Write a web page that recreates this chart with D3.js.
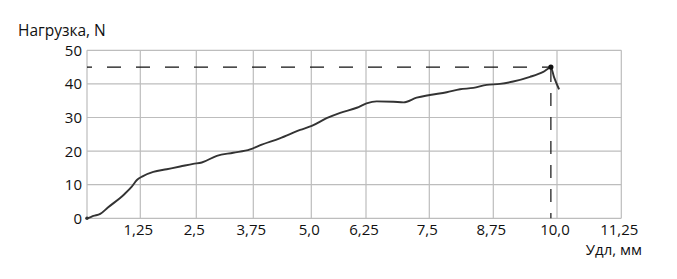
<!DOCTYPE html>
<html><head><meta charset="utf-8">
<script src="https://cdn.jsdelivr.net/npm/d3@7"></script>
<style>body{margin:0;background:#fff}svg{display:block}</style></head>
<body><svg id="c" width="677" height="279"></svg>
<script>
// ---- data ----
const xTicks = [0, 1.25, 2.5, 3.75, 5, 6.25, 7.5, 8.75, 10, 11.25];
const xTickLabels = ["", "1,25", "2,5", "3,75", "5,0", "6,25", "7,5", "8,75", "10,0", "11,25"];
const yTicks = [0, 10, 20, 30, 40, 50];
const yTickLabels = ["0", "10", "20", "30", "40", "50"];
const elongation = [0, 0.07, 0.15, 0.31, 0.49, 0.87, 1.05, 1.17, 1.30, 1.54, 1.84, 2.14, 2.43, 2.62, 2.95, 3.31, 3.68, 3.89, 4.32, 4.76, 5.01, 5.35, 5.66, 6.04, 6.26, 6.46, 6.79, 6.99, 7.25, 7.51, 7.84, 8.10, 8.36, 8.62, 8.88, 9.14, 9.47, 9.73, 9.88, 9.94, 10.04];
const load = [0, 0.3, 0.7, 1.3, 3.2, 7.1, 9.4, 11.4, 12.5, 13.8, 14.6, 15.4, 16.2, 16.6, 18.6, 19.5, 20.5, 21.7, 23.8, 26.3, 27.5, 29.8, 31.4, 32.9, 34.2, 34.8, 34.7, 34.5, 35.9, 36.7, 37.5, 38.4, 38.8, 39.7, 40.0, 40.7, 42.1, 43.6, 44.9, 42.1, 38.4];
const peakX = 9.88, peakY = 45;
const yTitle = "Нагрузка, N";
const xTitle = "Удл, мм";

// ---- layout ----
(function () {
const xPix = [87, 140.3, 196.3, 253.3, 311.3, 366, 429.3, 493.3, 557, 621.3];
const plotTop = 50.3, plotBottom = 218.3;
const svg = d3.select("#c");
const font = "'Open Sans', sans-serif";
const x = d3.scaleLinear().domain(xTicks).range(xPix);
const y = d3.scaleLinear().domain([0, 50]).range([plotBottom, plotTop]);
const grid = "#bdbdbd";

// grid
svg.append("g").selectAll("line").data(yTicks).join("line")
  .attr("x1", x(0)).attr("x2", x(11.25))
  .attr("y1", d => y(d)).attr("y2", d => y(d))
  .attr("stroke", grid).attr("stroke-width", 1.2);
svg.append("g").selectAll("line").data(xTicks).join("line")
  .attr("x1", d => x(d)).attr("x2", d => x(d))
  .attr("y1", y(0)).attr("y2", y(50))
  .attr("stroke", grid).attr("stroke-width", 1.2);

// tick labels
svg.append("g").selectAll("text").data(yTicks).join("text")
  .attr("x", 82).attr("y", d => y(d) + 5.5)
  .attr("text-anchor", "end").attr("font-family", font).attr("font-size", 15).attr("fill", "#111")
  .text((d, i) => yTickLabels[i]);
svg.append("g").selectAll("text").data(xTicks).join("text")
  .attr("x", d => x(d) - 2).attr("y", 234.5)
  .attr("text-anchor", "middle").attr("font-family", font).attr("font-size", 15).attr("fill", "#111")
  .text((d, i) => xTickLabels[i]);

// titles
svg.append("text").attr("x", 18).attr("y", 36).attr("font-family", font).attr("font-size", 15.5).attr("fill", "#111").text(yTitle);
svg.append("text").attr("x", 642).attr("y", 254.5).attr("text-anchor", "end").attr("font-family", font).attr("font-size", 15).attr("fill", "#111").text(xTitle);

// dashed guides
svg.append("line").attr("x1", x(0)).attr("x2", x(peakX)).attr("y1", y(peakY)).attr("y2", y(peakY))
  .attr("stroke", "#111").attr("stroke-width", 1.2).attr("stroke-dasharray", "14,15").attr("stroke-dashoffset", 9);
svg.append("line").attr("x1", x(peakX)).attr("x2", x(peakX)).attr("y1", y(peakY)).attr("y2", y(0))
  .attr("stroke", "#111").attr("stroke-width", 1.2).attr("stroke-dasharray", "13,11").attr("stroke-dashoffset", -2);

// curve
const pts = elongation.map((e, i) => [e, load[i]]);
svg.append("path").datum(pts)
  .attr("d", d3.line().x(d => x(d[0])).y(d => y(d[1])).curve(d3.curveMonotoneX))
  .attr("fill", "none").attr("stroke", "#333").attr("stroke-width", 1.9).attr("stroke-linejoin", "round");

svg.append("circle").attr("cx", x(peakX)).attr("cy", y(peakY)).attr("r", 2.6).attr("fill", "#111");
svg.append("circle").attr("cx", x(0)).attr("cy", y(0)).attr("r", 1.8).attr("fill", "#333");
})();
</script></body></html>
